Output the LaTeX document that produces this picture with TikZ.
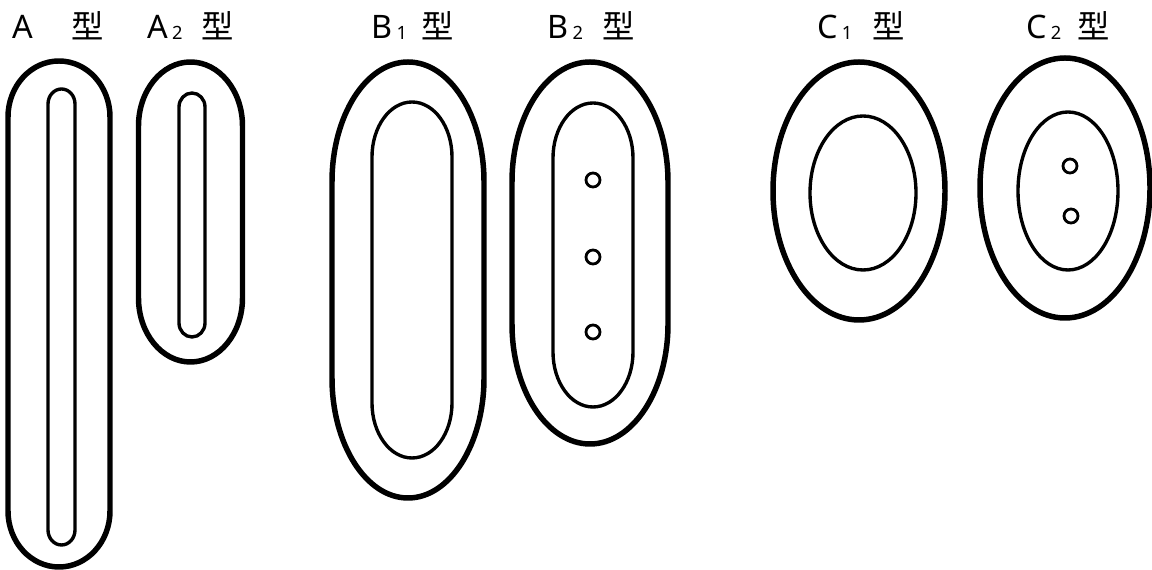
\documentclass[tikz,border=0pt]{standalone}
\usepackage{fontspec}
\setmainfont{Noto Sans}
\newfontfamily\cjk{Noto Sans CJK SC}
\usetikzlibrary{positioning}
\tikzset{
	outerwall/.style={line width=3.9pt, line join=round},
	innerwall/.style={line width=2.4pt, line join=round},
	pit/.style={line width=2pt},
	typelabel/.style={inner sep=0pt, anchor=base west, font=\fontsize{23}{23}\selectfont},
}
% capsule: style, cx, cy, rx, ry, cap height
\newcommand{\capsule}[6]{%
	\draw[#1] ({#2-#4}, {#3+#5-#6})
		arc[start angle=180, end angle=0, x radius=#4, y radius=#6]
		-- ({#2+#4}, {#3-#5+#6})
		arc[start angle=0, end angle=-180, x radius=#4, y radius=#6]
		-- cycle;}
\newcommand{\lowsub}[1]{\kern3pt\raisebox{-0.5pt}{\fontsize{13}{13}\selectfont #1}}

\begin{document}
\begin{tikzpicture}[x=0.025cm, y=0.025cm]
	\useasboundingbox (0, 0) rectangle (1152, 570);
	% labels
	\node[typelabel] (labA) at (12, 531) {A};
	\node[typelabel] (xingA) at (71, 531) {\cjk 型};
	\node[typelabel] (labAii) at (147, 531) {A\lowsub{2}};
	\node[typelabel] (xingAii) at (201, 531) {\cjk 型};
	\node[typelabel] (labBi) at (371, 531) {B\lowsub{1}};
	\node[typelabel] (xingBi) at (421, 531) {\cjk 型};
	\node[typelabel] (labBii) at (547, 531) {B\lowsub{2}};
	\node[typelabel] (xingBii) at (602, 531) {\cjk 型};
	\node[typelabel] (labCi) at (817, 531) {C\lowsub{1}};
	\node[typelabel] (xingCi) at (872, 531) {\cjk 型};
	\node[typelabel] (labCii) at (1026, 531) {C\lowsub{2}};
	\node[typelabel] (xingCii) at (1077, 531) {\cjk 型};
	% A
	\capsule{outerwall}{59}{256}{51}{253}{56}
	\capsule{innerwall}{61.5}{253}{13.5}{228}{15}
	% A2
	\capsule{outerwall}{190.5}{358}{52}{150}{64}
	\capsule{innerwall}{192}{355}{13}{122}{14}
	% B1
	\capsule{outerwall}{408}{290}{76}{218}{120}
	\capsule{innerwall}{412}{290}{40}{178}{55}
	% B2
	\capsule{outerwall}{590}{317}{78}{191}{120}
	\capsule{innerwall}{593}{315}{40}{152}{55}
	\foreach \py in {180, 257, 332}
		\draw[pit] (593, 570-\py) circle[radius=7];
	% C1
	\draw[outerwall] (859, 379) ellipse[x radius=86, y radius=129];
	\draw[innerwall] (863, 377) ellipse[x radius=53, y radius=77];
	% C2
	\draw[outerwall] (1065, 382) ellipse[x radius=85, y radius=130];
	\draw[innerwall] (1068, 379) ellipse[x radius=50, y radius=79];
	\draw[pit] (1070, 404) circle[radius=7];
	\draw[pit] (1071, 354) circle[radius=7];
\end{tikzpicture}
\end{document}
